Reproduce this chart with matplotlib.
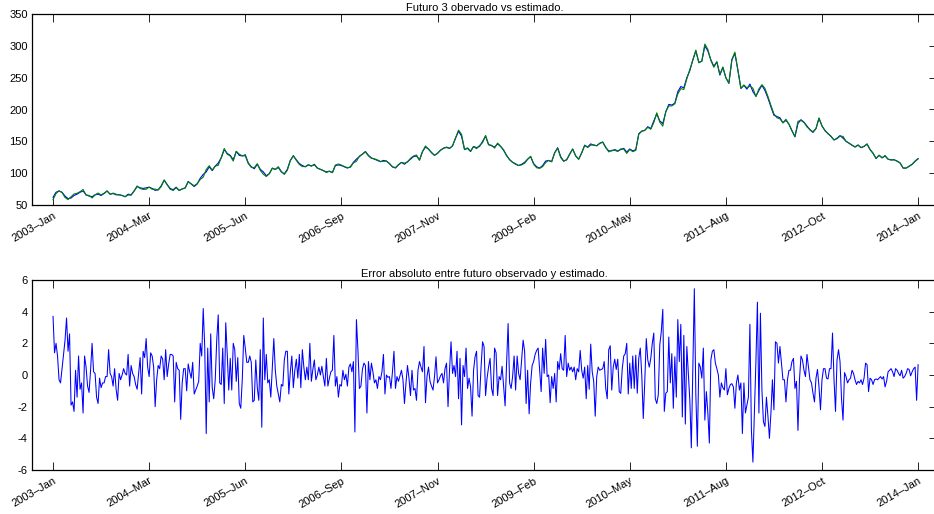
import matplotlib
matplotlib.use("Agg")
import matplotlib.pyplot as plt
import matplotlib.dates as mdates
import numpy as np
import pandas as pd

plt.rcParams['font.family'] = ['Liberation Sans', 'DejaVu Sans']
plt.rcParams['axes.unicode_minus'] = False

# Serie quincenal del futuro 3 observado
futuro_observado = [
    62, 70, 72, 70, 64, 60, 61, 65, 67, 70,
    72, 66, 64, 63, 66, 67, 65, 68, 72, 67,
    68, 66, 66, 65, 63, 67, 66, 72, 79, 77,
    76, 77, 78, 76, 73, 74, 80, 89, 82, 76,
    74, 78, 73, 75, 77, 87, 83, 79, 83, 92,
    98, 102, 110, 104, 111, 116, 124, 137, 131, 128,
    121, 134, 128, 127, 129, 116, 110, 107, 114, 106,
    102, 96, 99, 108, 106, 109, 102, 99, 106, 120,
    127, 121, 115, 112, 110, 113, 111, 114, 108, 106,
    104, 102, 103, 101, 112, 113, 112, 110, 108, 110,
    117, 122, 126, 130, 134, 128, 124, 122, 120, 118,
    120, 119, 115, 110, 108, 113, 117, 114, 118, 122,
    126, 127, 121, 134, 141, 138, 132, 128, 131, 136,
    139, 141, 139, 143, 155, 166, 158, 137, 139, 134,
    142, 140, 142, 150, 158, 145, 143, 141, 146, 142,
    136, 128, 121, 117, 114, 112, 114, 117, 122, 126,
    115, 110, 108, 112, 119, 120, 118, 132, 140, 126,
    119, 121, 130, 138, 127, 122, 132, 144, 141, 146,
    144, 143, 147, 149, 140, 135, 135, 137, 135, 137,
    139, 133, 138, 135, 137, 162, 166, 167, 173, 170,
    182, 193, 182, 178, 196, 208, 207, 210, 228, 236,
    234, 250, 261, 278, 292, 274, 276, 300, 292, 278,
    268, 275, 254, 266, 250, 241, 278, 288, 262, 233,
    238, 232, 240, 228, 221, 230, 238, 230, 218, 204,
    191, 189, 187, 179, 183, 177, 167, 157, 178, 184,
    180, 174, 168, 164, 170, 186, 174, 167, 162, 158,
    152, 155, 159, 155, 150, 147, 144, 141, 144, 140,
    142, 146, 137, 131, 123, 128, 124, 127, 122, 121,
    121, 119, 116, 108, 108, 111, 114, 119, 123,
]

# Error semanal entre el futuro observado y el estimado
error_absoluto = [
    # 2003 - 2004
    3.7, 1.4, 2.0, 1.2, -0.3, -0.5, 0.4, 1.3, 2.2, 3.6,
    1.5, 2.6, -1.9, -1.7, -2.3, 0.3, -1.4, 1.2, -0.9, -0.5,
    -2.4, 1.2, 0.5, -0.7, -1.1, 0.3, 2.0, 0.2, 0.1, -1.4,
    -1.8, -0.2, -0.8, -0.5, -0.5, -0.1, -0.1, 1.6, 0.1, -0.1,
    -0.7, 0.4, -0.9, -1.6, 0.1, -0.3, 0.0, 0.4, 0.1, 0.0,
    1.3, -0.7, 0.6, 0.1, -0.1, -0.6, -0.9, 0.1, 1.1, -1.2,
    1.5, 1.1, 2.3, 0.5, -0.1, 1.4, 1.2, 0.5, -2.0, -0.3,
    0.6, 0.4, 1.2, 1.0, -0.3, 1.6, -0.1, 0.7, 1.3, 1.3,
    1.2, -1.7, 0.8, 0.4, 0.3, -2.8, -0.5, 0.4, 0.4, -1.0,
    0.7, 0.2,
    # 2004 - 2006
    -0.2, 0.8, -1.2, -0.95, -0.7, -0.4, 2.0, 1.2, 4.2, 1.8,
    -3.7, 1.7, -1.7, 2.6, -0.8, -1.5, -0.3, 2.2, 3.8, -0.5,
    -0.6, 1.7, -1.8, 3.3, 1.3, -0.95, 1.05, -0.95, 2.0, 1.6,
    -0.4, 1.1, -1.8, -2.1, -0.3, 2.5, 1.7, 0.8, 0.8, 1.2,
    0.8, -1.7, -1.6, 0.95, -0.8, -1.6, 1.6, -3.3, 3.6, -0.3,
    1.3, -0.5, -0.3, -1.4, 0.4, 2.3, 0.3, -0.7, -1.2, -1.7,
    -0.6, -0.7, 0.95, 1.5, 1.5, -1.2, 0.2, 1.2, -0.8, 0.3,
    1.0, -0.2, 1.3, -0.8, 1.6, 0.5, -0.3, 0.5, -0.3, 2.0,
    -0.4, 0.35, 0.95, -0.3, 0.0, 0.5, 0.0, 0.55, -0.1, -0.7,
    1.05, -0.7, -0.2, 0.2, 0.3, 2.5, -0.7, -0.1, -1.4, -0.6,
    # 2006 - 2008
    -0.7, 0.3, -0.3, 0.05, -0.7, 0.5, 0.7, 0.2, 0.85, -3.6,
    3.5, 1.6, -0.85, -0.7, 0.35, 0.75, 0.6, -2.4, 0.85, -0.3,
    0.75, 0.2, -0.5, -0.3, -0.85, -0.1, -0.3, 0.2, 1.3, -1.2,
    0.0, -0.15, -0.1, -0.85, 0.2, 1.5, -0.85, -0.1, -0.4, -0.05,
    0.3, -0.3, -1.8, -0.5, 0.6, -0.2, -1.3, 0.3, -0.95, -0.85,
    -1.6, 0.3, 0.85, 0.5, 0.2, 1.8, -1.75, -0.1, 0.5, -0.4,
    -0.7, -0.95, -0.1, 1.15, -0.5, -0.3, -0.05, 0.1, -0.5, 0.4,
    0.75, -2.0, 0.3, 2.1, 0.1, 0.6, -0.1, 1.5, -1.5, 1.05,
    -3.15, 0.6, -0.1, 1.7, -0.85, -0.2, -0.75, -2.6, 0.3, 1.15,
    1.5, -1.3, -1.4, 0.5, 2.1, 1.8,
    # 2008 - 2010
    -1.3, -0.2, 0.5, 1.05, -0.85, -1.3, 1.7, 1.4, -1.3, -0.1,
    -0.3, 0.55, -0.7, -1.95, 0.75, 3.25, -0.5, -0.85, -0.1, 1.2,
    -0.95, 1.2, 0.1, -0.3, 0.95, 2.2, 1.5, -1.8, 0.3, -2.45,
    -0.5, 0.6, 0.85, 1.3, 1.55, 1.7, 0.3, -1.05, 1.7, 0.1,
    2.25, -0.1, 0.0, -1.75, -0.1, -0.85, 0.1, -1.7, 0.85, 0.35,
    1.35, 0.4, 0.3, 2.5, -0.1, 0.75, 0.3, 0.5, 0.2, 0.5,
    -0.3, 0.4, 0.2, 1.55, 0.3, -0.2, 0.5, -1.5, 0.6, -0.9,
    1.95, 0.2, -0.4, -2.6, -0.1, 0.5, 0.3, 0.35, 0.4, 0.85,
    -0.85, -1.5, 1.6, 1.85, -0.95, 0.5, 1.0, 0.35, 1.0, -1.05,
    -1.16, 0.4, 1.2, 1.35, 2.0, -1.2, 0.75,
    # 2010 - 2012
    -0.85, 1.2, -0.85, 1.25, -1.15, 1.05, 1.7, 0.0, -2.75, -0.4,
    2.3, 0.95, 0.5, 1.05, 2.0, 2.65, -1.5, -1.8, -1.25, 1.9,
    2.75, 4.15, -2.3, -1.15, -1.05, 2.4, -0.5, 1.35, -2.1, 1.15,
    -1.4, 3.5, 0.85, 3.2, -2.65, 2.5, -3.1, 1.8, 0.1, -1.6,
    -4.6, 0.5, 5.45, -1.25, -4.5, 0.75, 0.5, -0.2, 1.7, -2.85,
    -1.05, -2.4, -4.3, 0.95, 1.5, 1.6, 0.75, 0.4, 0.0, -1.4,
    -0.5, -0.8, -0.95, 0.4, -1.25, -0.85, -0.6, -0.55, -0.75, -2.1,
    -0.5, 0.0, -0.95, -0.5, -3.7, -0.5, -2.4, -1.9, -1.4, 3.2,
    -3.5, -5.5, -2.4, 0.85, 4.6, -2.4, 3.9, -0.95, -2.95, -3.25,
    -1.4, -2.6, -4.0, -2.4,
    # 2012 - 2014
    -0.3, -2.2, 2.1, 2.0, 0.75, 1.8, 0.75, -0.3, -0.3, -1.7,
    -0.3, 0.3, 0.3, 0.85, 1.05, -0.85, -0.4, -3.5, -0.3, 1.2,
    0.95, 0.3, -0.1, 1.3, 0.5, -0.3, -0.5, -1.15, -1.7, -0.2,
    0.35, -0.75, -2.2, -0.3, 0.4, 0.4, -0.2, -0.25, 0.4, 0.4,
    2.65, -0.3, -2.3, 0.95, 1.6, 0.85, -1.5, -2.85,
    0.15, -0.1, -0.5, -0.3, -0.2, 0.3, 0.1, -0.3, -0.6, -0.4,
    -0.5, -0.3, -0.6, -0.2, 0.75, 0.65, -1.05, -0.2, -0.3, -0.6,
    -0.3, -0.25, -0.3, -0.2, -0.1, -0.25, -0.1, -0.75, -0.4, 0.2,
    0.3, 0.4, 0.2, -0.1, 0.4, 0.3, 0.1, -0.05, 0.3, -0.2,
    -0.1, 0.1, 0.4, 0.35, -0.05, 0.2, 0.4, 0.5, -1.6, 0.65,
]

etiquetas_x = ['2003\u2013Jan', '2004\u2013Mar', '2005\u2013Jun', '2006\u2013Sep',
               '2007\u2013Nov', '2009\u2013Feb', '2010\u2013May', '2011\u2013Aug',
               '2012\u2013Oct', '2014\u2013Jan']

titulo_sup = 'Futuro 3 obervado vs estimado.'
titulo_inf = 'Error absoluto entre futuro observado y estimado.'

# Fechas: semanal para el error, quincenal para los precios
semanas = pd.date_range('2003-01-03', periods=len(error_absoluto), freq='7D')
quincenas = semanas[::2][:len(futuro_observado)]

observado = np.array(futuro_observado, dtype=float)
error = np.array(error_absoluto, dtype=float)
estimado = observado - error[::2][:len(observado)]

t0 = mdates.date2num(semanas[0])
t1 = mdates.date2num(semanas[-1])
pos_ticks = np.linspace(t0, t1, len(etiquetas_x))

W, H = 934, 514
fig = plt.figure(figsize=(W / 100, H / 100), dpi=100)
ax1 = fig.add_axes([32 / W, 1 - 205 / H, 905 / W, 191 / H])
ax2 = fig.add_axes([32 / W, 1 - 470 / H, 905 / W, 190 / H])

azul = (0, 0, 1)
verde = (0, 0.5, 0)

ax1.plot(quincenas, observado, color=azul, lw=0.8)
ax1.plot(quincenas, estimado, color=verde, lw=0.8)
ax1.set_ylim(50, 350)
ax1.set_yticks(np.arange(50, 351, 50))
ax1.set_title(titulo_sup, fontsize=8, pad=2)

ax2.plot(semanas, error, color=azul, lw=0.75)
ax2.set_ylim(-6, 6)
ax2.set_yticks(np.arange(-6, 7, 2))
ax2.set_title(titulo_inf, fontsize=8, pad=2)

for ax in (ax1, ax2):
    ax.set_xlim(t0 - 98, t1 + 88)
    ax.set_xticks(pos_ticks)
    ax.set_xticklabels(etiquetas_x, rotation=30, ha='right',
                       rotation_mode='anchor', fontsize=8)
    ax.tick_params(axis='x', direction='in', length=5.8, width=0.7,
                   top=True, bottom=True, pad=4, color='#222222')
    ax.tick_params(axis='y', direction='in', length=5.8, width=0.7,
                   left=False, right=True, labelleft=True, labelsize=8,
                   pad=3, color='#222222')
    for s in ax.spines.values():
        s.set_linewidth(0.9)
        s.set_color('black')

fig.savefig('out.png', dpi=100)
